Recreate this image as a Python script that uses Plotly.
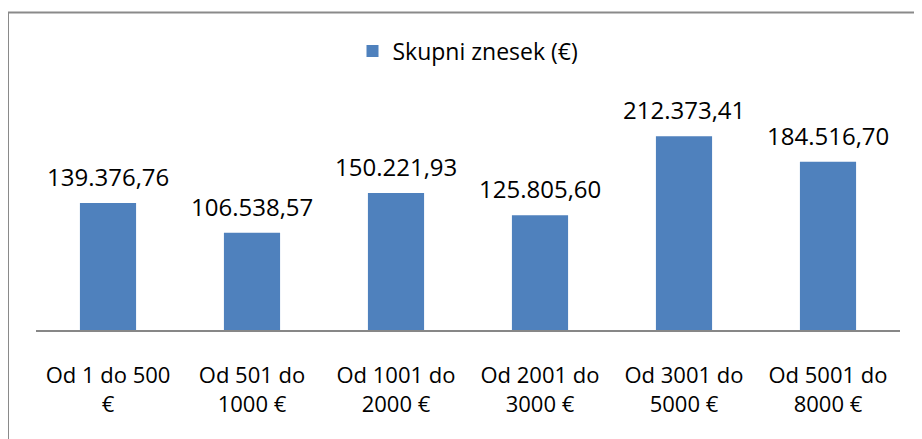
import plotly.graph_objects as go

categories = ["Od 1 do 500<br>€", "Od 501 do<br>1000 €", "Od 1001 do<br>2000 €",
              "Od 2001 do<br>3000 €", "Od 3001 do<br>5000 €", "Od 5001 do<br>8000 €"]
values = [139376.76, 106538.57, 150221.93, 125805.60, 212373.41, 184516.70]
series_name = "Skupni znesek (€)"


def fmt_sl(v):
    s = f"{v:,.2f}"
    return s.replace(",", "X").replace(".", ",").replace("X", ".")


FONT = "Open Sans"
BAR = "#4f81bd"

OFF = 8  # default body margin of the page
W, H = 922 - OFF, 439 - OFF
ML, MR, MT, MB = 36 - OFF, 22, 102 - OFF, 109
PW = W - ML - MR
PH = H - MT - MB

fig = go.Figure()
fig.add_trace(go.Bar(
    x=categories, y=values, name=series_name,
    marker=dict(color=BAR, line=dict(width=0)),
    showlegend=True,
))

for c, v in zip(categories, values):
    fig.add_annotation(x=c, y=v, text=fmt_sl(v), showarrow=False,
                       yanchor="bottom", yshift=8,
                       font=dict(family=FONT, size=24, color="#000000"))


def px_x(p):
    return (p - OFF - ML) / PW


def px_y(p):
    return (H - MB - (p - OFF)) / PH


fig.add_shape(type="rect", xref="paper", yref="paper",
              x0=px_x(8), x1=px_x(940), y0=px_y(460), y1=px_y(12.5),
              line=dict(color="#8a8a8a", width=2), fillcolor="rgba(0,0,0,0)",
              layer="below")

fig.update_layout(
    width=W, height=H,
    margin=dict(l=ML, r=MR, t=MT, b=MB),
    paper_bgcolor="white", plot_bgcolor="white",
    font=dict(family=FONT, size=22, color="#000000"),
    bargap=0.61,
    legend=dict(orientation="h", x=0.5, xanchor="center", y=px_y(51), yanchor="middle",
                font=dict(family=FONT, size=23, color="#000000"),
                itemwidth=30),
    xaxis=dict(showline=True, linecolor="#878787", linewidth=2, showgrid=False,
               ticks="", tickfont=dict(family=FONT, size=22, color="#000000"),
               ticklabelstandoff=25, fixedrange=True),
    yaxis=dict(range=[0, 250000], visible=False, showgrid=False, zeroline=False),
)

fig.write_html("out.html")
